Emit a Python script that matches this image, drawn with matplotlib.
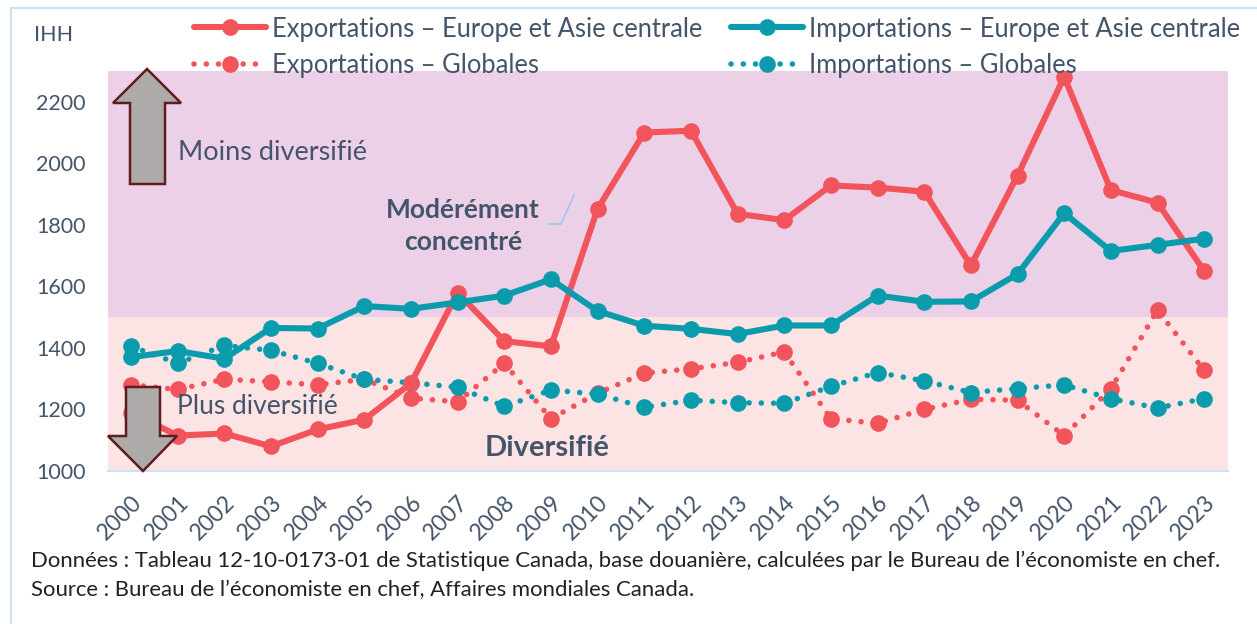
import matplotlib
matplotlib.use("Agg")
import matplotlib.pyplot as plt
from matplotlib.lines import Line2D
from matplotlib.patches import Polygon

plt.rcParams['font.family'] = ['Lato', 'DejaVu Sans']

years = list(range(2000, 2024))
exp_europe = [1190, 1115, 1122, 1080, 1135, 1167, 1285, 1580, 1422, 1405, 1852, 2100,
              2106, 1836, 1815, 1928, 1921, 1908, 1668, 1960, 2281, 1913, 1872, 1650]
imp_europe = [1370, 1390, 1365, 1465, 1463, 1536, 1527, 1548, 1570, 1623, 1520, 1472,
              1462, 1445, 1473, 1473, 1570, 1550, 1551, 1640, 1838, 1715, 1735, 1755]
exp_global = [1280, 1265, 1298, 1290, 1280, 1298, 1237, 1225, 1350, 1170, 1253, 1318,
              1332, 1353, 1387, 1170, 1155, 1200, 1233, 1230, 1115, 1267, 1523, 1327]
imp_global = [1405, 1350, 1408, 1392, 1350, 1298, 1287, 1272, 1210, 1263, 1250, 1207,
              1230, 1222, 1220, 1275, 1320, 1293, 1255, 1268, 1280, 1235, 1205, 1235]
y_ticks = [1000, 1200, 1400, 1600, 1800, 2000, 2200]

RED = '#F2545B'
TEAL = '#0A9BAD'
TEXT = '#44546A'
W, H = 1257, 624
MS = 12

fig = plt.figure(figsize=(W / 100, H / 100), dpi=100)
ax = fig.add_axes([107.7 / W, 1 - 471 / H, (1227.5 - 107.7) / W, (471 - 71) / H])


def px(x, y):
    return x / W, 1 - y / H


# background bands
ax.axhspan(1500, 2300, color='#ECD0E8', lw=0, zorder=0)
ax.axhspan(1000, 1500, color='#FCE4E4', lw=0, zorder=0)

dots = (0, (0.01, 2.2))
ax.plot(years, exp_global, color=RED, lw=4, ls=dots, marker='o', ms=MS, mew=0, dash_capstyle='round', zorder=2)
ax.plot(years, imp_global, color=TEAL, lw=4, ls=dots, marker='o', ms=MS, mew=0, dash_capstyle='round', zorder=2)
ax.plot(years, exp_europe, color=RED, lw=4.4, marker='o', ms=MS, mew=0, zorder=3)
ax.plot(years, imp_europe, color=TEAL, lw=4.4, marker='o', ms=MS, mew=0, zorder=4)

ax.set_xlim(1999.5, 2023.5)
ax.set_ylim(1000, 2300)
ax.set_yticks(y_ticks)
ax.set_xticks(years)
ax.set_xticklabels(years, rotation=45, ha='right', rotation_mode='anchor')
ax.tick_params(length=0, labelsize=15.5, labelcolor=TEXT)
ax.tick_params(axis='x', labelsize=16.5, pad=15)
ax.tick_params(axis='y', pad=16)
for s in ['top', 'right', 'left']:
    ax.spines[s].set_visible(False)
ax.spines['bottom'].set_color('#CFE2F3')
ax.spines['bottom'].set_linewidth(1.5)

# outer frame
fig.add_artist(Line2D([px(11, 0)[0], px(11, 0)[0], 1], [0, px(0, 8)[1], px(0, 8)[1]],
                      color='#CFE2F3', lw=1.5))

# legend
entries = [
    (230, 27, RED, '-', 4.4, 'Exportations – Europe et Asie centrale', 272),
    (767, 27, TEAL, '-', 4.4, 'Importations – Europe et Asie centrale', 809),
    (230, 64, RED, dots, 4, 'Exportations – Globales', 272),
    (767, 64, TEAL, dots, 4, 'Importations – Globales', 809),
]
for cx, cy, col, style, lw, label, tx in entries:
    x0, y0 = px(cx - 36, cy)
    x1, _ = px(cx + 36, cy)
    fig.add_artist(Line2D([x0, x1], [y0, y0], color=col, lw=lw, ls=style,
                          dash_capstyle='round', solid_capstyle='round', zorder=5))
    fig.add_artist(Line2D([px(cx, cy)[0]], [y0], color=col, marker='o', ms=MS, mew=0, zorder=5))
    fig.text(*px(tx, cy + 2), label, fontsize=18.4, color=TEXT, va='center', zorder=6)

# arrows
up_arrow = [(147, 69), (181, 103), (165, 103), (165, 184), (130, 184), (130, 103), (113, 103)]
down_arrow = [(143, 471), (108, 436), (126, 436), (126, 387), (160, 387), (160, 436), (177, 436)]
for pts in (up_arrow, down_arrow):
    fig.add_artist(Polygon([px(*p) for p in pts], closed=True, transform=fig.transFigure,
                           facecolor='#AEAAAA', edgecolor='#5F1D1D', lw=1.8, zorder=7))

# annotation text
fig.text(*px(34, 35), 'IHH', fontsize=15.5, color=TEXT, va='center')
fig.text(*px(178, 153), 'Moins diversifié', fontsize=19.5, color=TEXT, va='center', zorder=8)
fig.text(*px(177, 406), 'Plus diversifié', fontsize=19, color=TEXT, va='center', zorder=8)
fig.text(*px(463, 226), 'Modérément\nconcentré', fontsize=19, color=TEXT, weight='bold',
         ha='center', va='center', linespacing=1.4, zorder=8)
fig.text(*px(547, 448), 'Diversifié', fontsize=21, color=TEXT, weight='bold',
         ha='center', va='center', zorder=8)
fig.add_artist(Line2D([px(549, 0)[0], px(561, 0)[0], px(574, 0)[0]],
                      [px(0, 224)[1], px(0, 224)[1], px(0, 195)[1]], color='#9CC8EE', lw=1.2))

fig.text(*px(31, 561), 'Données : Tableau 12-10-0173-01 de Statistique Canada, base douanière, '
         'calculées par le Bureau de l’économiste en chef.', fontsize=15.9, color='#222222', va='center')
fig.text(*px(31, 590), 'Source : Bureau de l’économiste en chef, Affaires mondiales Canada.',
         fontsize=15.9, color='#222222', va='center')

fig.savefig('out.png', dpi=100)
